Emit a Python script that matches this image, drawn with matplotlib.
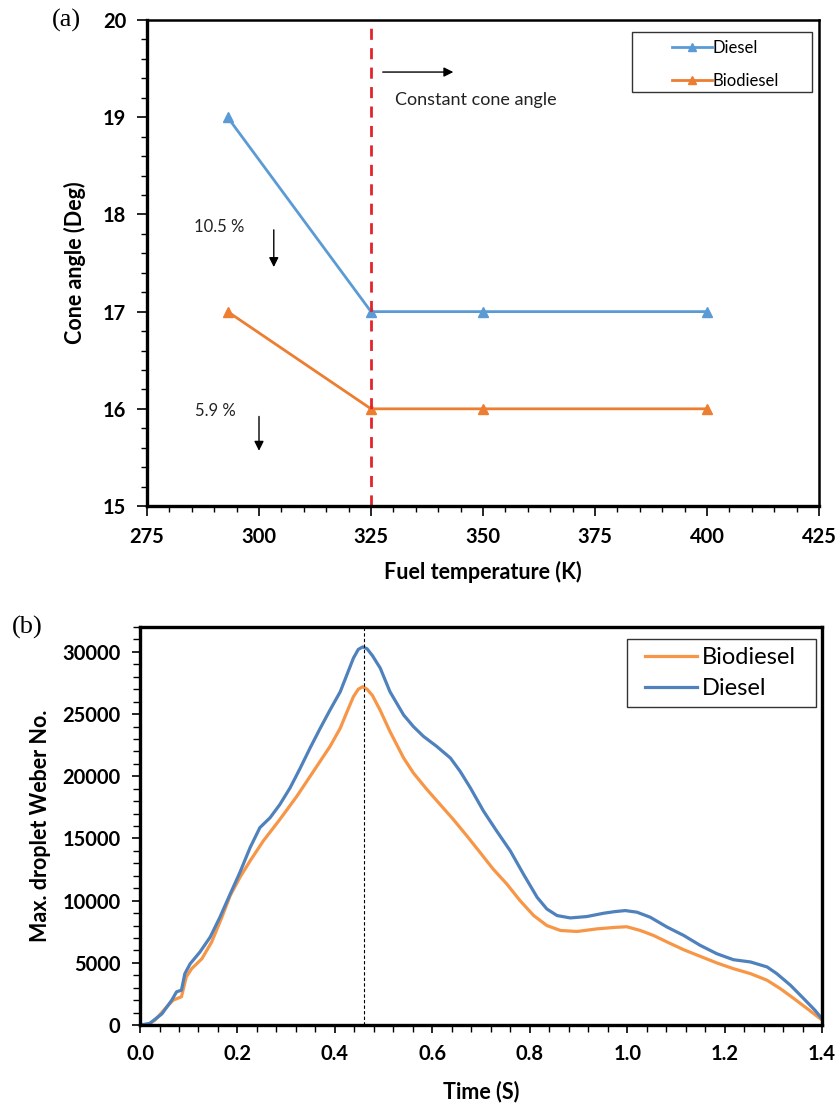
import matplotlib
matplotlib.use("Agg")
import matplotlib.pyplot as plt
import matplotlib.patches as mpatches
from matplotlib.ticker import MultipleLocator, FormatStrFormatter

# cone angle vs fuel temperature
temp_k = [293, 325, 350, 400]
cone_diesel = [19, 17, 17, 17]
cone_biodiesel = [17, 16, 16, 16]

# max droplet Weber number vs time
t_diesel = [0.0, 0.02, 0.045, 0.065, 0.075, 0.085, 0.092, 0.103, 0.123, 0.144,
            0.164, 0.185, 0.205, 0.226, 0.246, 0.267, 0.287, 0.308, 0.329, 0.349,
            0.37, 0.39, 0.411, 0.425, 0.438, 0.448, 0.457, 0.466, 0.477, 0.493,
            0.513, 0.541, 0.561, 0.582, 0.609, 0.637, 0.657, 0.678, 0.705, 0.732,
            0.76, 0.787, 0.815, 0.835, 0.856, 0.883, 0.917, 0.952, 0.975, 0.996,
            1.02, 1.047, 1.082, 1.116, 1.15, 1.184, 1.218, 1.253, 1.287, 1.307,
            1.335, 1.362, 1.385, 1.4]
we_diesel = [0, 130, 900, 1990, 2670, 2800, 4130, 4930, 5870, 7070,
             8670, 10530, 12270, 14270, 15870, 16670, 17730, 19070, 20670, 22270,
             23870, 25330, 26800, 28200, 29500, 30200, 30400, 30250, 29700, 28700,
             26800, 24930, 24000, 23200, 22400, 21470, 20400, 19070, 17200, 15600,
             14000, 12130, 10270, 9330, 8800, 8610, 8720, 8990, 9120, 9200,
             9070, 8670, 7870, 7200, 6400, 5730, 5250, 5070, 4670, 4130,
             3200, 2130, 1200, 500]

t_bio = [0.015, 0.031, 0.055, 0.068, 0.085, 0.095, 0.106, 0.127, 0.147, 0.168,
         0.185, 0.205, 0.226, 0.253, 0.287, 0.322, 0.356, 0.39, 0.411, 0.425,
         0.438, 0.448, 0.457, 0.466, 0.477, 0.493, 0.513, 0.541, 0.561, 0.589,
         0.616, 0.643, 0.671, 0.698, 0.725, 0.753, 0.78, 0.808, 0.835, 0.863,
         0.897, 0.938, 0.975, 0.999, 1.027, 1.054, 1.082, 1.116, 1.15, 1.184,
         1.218, 1.253, 1.287, 1.314, 1.342, 1.369, 1.39, 1.4]
we_bio = [0, 400, 1470, 2000, 2270, 3870, 4530, 5330, 6670, 8670,
          10400, 11870, 13200, 14800, 16530, 18400, 20400, 22400, 23870, 25200,
          26400, 27000, 27200, 27000, 26500, 25300, 23600, 21470, 20270, 18930,
          17730, 16530, 15200, 13870, 12530, 11330, 10000, 8800, 8000, 7600,
          7520, 7730, 7850, 7900, 7600, 7200, 6670, 6050, 5520, 4990,
          4530, 4130, 3600, 2930, 2130, 1330, 700, 400]

peak_time = 0.46

plt.rcParams['font.family'] = ['Lato', 'DejaVu Sans']

fig = plt.figure(figsize=(8.4, 11.08), dpi=100)


def boxed_legend(ax, box, anchor, **kw):
    # legend without its own frame, plus a plain box drawn in axes coords
    x0, y0, x1, y1 = box
    ax.add_patch(mpatches.Rectangle((x0, y0), x1 - x0, y1 - y0,
                                    transform=ax.transAxes, fill=False,
                                    edgecolor='#333333', lw=1.0,
                                    clip_on=False, zorder=5))
    return ax.legend(loc='upper left', bbox_to_anchor=anchor, frameon=False,
                     borderaxespad=0, borderpad=0, **kw)


# ── (a) cone angle ────────────────────────────────────────────────────────
ax1 = fig.add_axes([0.175, 0.5433, 0.8, 0.4386])
ax1.plot(temp_k, cone_diesel, color='#5B9BD5', lw=2.0, marker='^',
         markersize=7, label='Diesel')
ax1.plot(temp_k, cone_biodiesel, color='#ED7D31', lw=2.0, marker='^',
         markersize=7, label='Biodiesel')
ax1.axvline(325, color='#E3242B', lw=2.0, ls=(0, (4, 3)))

ax1.set_xlim(275, 425)
ax1.set_ylim(15, 20)
ax1.xaxis.set_major_locator(MultipleLocator(25))
ax1.xaxis.set_minor_locator(MultipleLocator(5))
ax1.yaxis.set_major_locator(MultipleLocator(1))
ax1.yaxis.set_minor_locator(MultipleLocator(0.2))
ax1.tick_params(which='major', direction='out', length=7, width=1.2,
                labelsize=14.5, pad=8)
ax1.tick_params(which='minor', direction='out', length=4, width=1.0)
for lbl in ax1.get_xticklabels() + ax1.get_yticklabels():
    lbl.set_fontweight('bold')
for side in ['left', 'bottom']:
    ax1.spines[side].set_linewidth(2.4)
for side in ['top', 'right']:
    ax1.spines[side].set_linewidth(1.8)

ax1.set_xlabel('Fuel temperature (K)', fontsize=15.5, fontweight='bold',
               labelpad=10)
ax1.set_ylabel('Cone angle (Deg)', fontsize=15.5, fontweight='bold',
               labelpad=12)

ax1.annotate('', xy=(344, 19.465), xytext=(327, 19.465),
             arrowprops=dict(arrowstyle='-|>', color='black', lw=1.0,
                             mutation_scale=14))
ax1.text(330.4, 19.18, 'Constant cone angle', fontsize=13, va='center',
         ha='left', color='#222222')

ax1.text(285.5, 17.87, '10.5 %', fontsize=12, va='center', ha='left',
         color='#222222')
ax1.annotate('', xy=(303.3, 17.43), xytext=(303.3, 17.87),
             arrowprops=dict(arrowstyle='-|>', color='black', lw=1.0,
                             mutation_scale=14))
ax1.text(285.7, 15.98, '5.9 %', fontsize=12, va='center', ha='left',
         color='#222222')
ax1.annotate('', xy=(300, 15.54), xytext=(300, 15.95),
             arrowprops=dict(arrowstyle='-|>', color='black', lw=1.0,
                             mutation_scale=14))

boxed_legend(ax1, (0.722, 0.852, 0.99, 0.975), (0.781, 0.959),
             fontsize=12, handlelength=2.4, handletextpad=0.05,
             labelspacing=1.0, markerscale=0.8)

fig.text(52 / 840, 1 - 20 / 1108, '(a)', fontsize=19, va='center',
         ha='left', family=['Liberation Serif'])

# ── (b) Weber number ──────────────────────────────────────────────────────
ax2 = fig.add_axes([0.1667, 0.0749, 0.812, 0.3592])
ax2.plot(t_bio, we_bio, color='#F79646', lw=2.3, label='Biodiesel',
         solid_joinstyle='round')
ax2.plot(t_diesel, we_diesel, color='#4F81BD', lw=2.3, label='Diesel',
         solid_joinstyle='round')
ax2.axvline(peak_time, color='black', lw=0.8, ls=(0, (3, 2)))

ax2.set_xlim(0, 1.4)
ax2.set_ylim(0, 32000)
ax2.xaxis.set_major_locator(MultipleLocator(0.2))
ax2.xaxis.set_minor_locator(MultipleLocator(0.04))
ax2.yaxis.set_major_locator(MultipleLocator(5000))
ax2.yaxis.set_minor_locator(MultipleLocator(1000))
ax2.xaxis.set_major_formatter(FormatStrFormatter('%.1f'))
ax2.tick_params(which='major', direction='out', length=6, width=1.2,
                labelsize=14.5, pad=8)
ax2.tick_params(which='minor', direction='out', length=5, width=1.0)
for lbl in ax2.get_xticklabels() + ax2.get_yticklabels():
    lbl.set_fontweight('bold')
for side in ['left', 'bottom', 'top', 'right']:
    ax2.spines[side].set_linewidth(2.4)

ax2.set_xlabel('Time (S)', fontsize=15.5, fontweight='bold', labelpad=12)
ax2.set_ylabel('Max. droplet Weber No.', fontsize=15.5, fontweight='bold',
               labelpad=8)

boxed_legend(ax2, (0.714, 0.799, 0.991, 0.970), (0.7405, 0.950),
             fontsize=17, handlelength=2.2, handletextpad=0.2,
             labelspacing=0.44)

fig.text(12 / 840, 1 - 627 / 1108, '(b)', fontsize=19, va='center',
         ha='left', family=['Liberation Serif'])

fig.savefig('out.png', dpi=100)
